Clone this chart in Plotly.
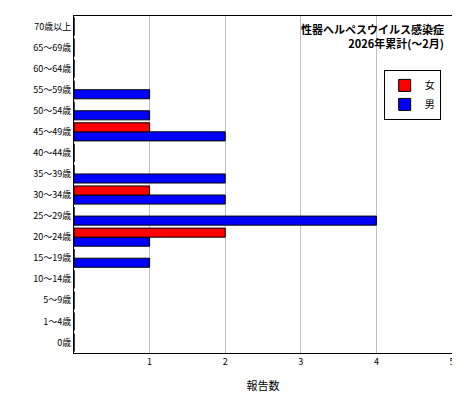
import plotly.graph_objects as go

ages = ['0歳', '1～4歳', '5～9歳', '10～14歳', '15～19歳', '20～24歳', '25～29歳', '30～34歳',
        '35～39歳', '40～44歳', '45～49歳', '50～54歳', '55～59歳', '60～64歳', '65～69歳', '70歳以上']
female = [0, 0, 0, 0, 0, 2, 0, 1, 0, 0, 1, 0, 0, 0, 0, 0]
male = [0, 0, 0, 0, 1, 1, 4, 2, 2, 0, 2, 1, 1, 0, 0, 0]

font = 'Noto Sans CJK JP'
# male first so that female ends up on top within each group
fig = go.Figure()
fig.add_trace(go.Bar(y=ages, x=male, name='男', orientation='h',
                     marker=dict(color='#0000ff', line=dict(color='black', width=1))))
fig.add_trace(go.Bar(y=ages, x=female, name='女', orientation='h',
                     marker=dict(color='#ff0000', line=dict(color='black', width=1))))

fig.update_layout(
    width=460, height=400,
    margin=dict(l=66, r=16, t=8, b=55),
    plot_bgcolor='white', paper_bgcolor='white',
    barmode='group', bargap=0.14, bargroupgap=0.0,
    font=dict(family=font, size=9, color='black'),
    legend=dict(x=0.97, y=0.84, xanchor='right', yanchor='top', traceorder='reversed',
                bordercolor='black', borderwidth=1, bgcolor='white',
                font=dict(size=10), itemwidth=30),
    showlegend=True,
    annotations=[dict(text='<b>性器ヘルペスウイルス感染症</b><br><b>2026年累計(～2月)</b>',
                      xref='paper', yref='paper', x=0.985, y=0.99,
                      xanchor='right', yanchor='top', align='right',
                      showarrow=False, font=dict(size=11))],
)
fig.update_xaxes(range=[0, 5], tickvals=[1, 2, 3, 4, 5], showgrid=True, gridcolor='#c0c0c0',
                 showline=True, linecolor='black', mirror=True, ticks='',
                 title=dict(text='報告数', font=dict(size=11)), zeroline=False)
fig.update_yaxes(showline=True, linecolor='black', mirror=True, ticks='', showgrid=False,
                 automargin=False, categoryorder='array', categoryarray=ages)

fig.write_html('out.html')
